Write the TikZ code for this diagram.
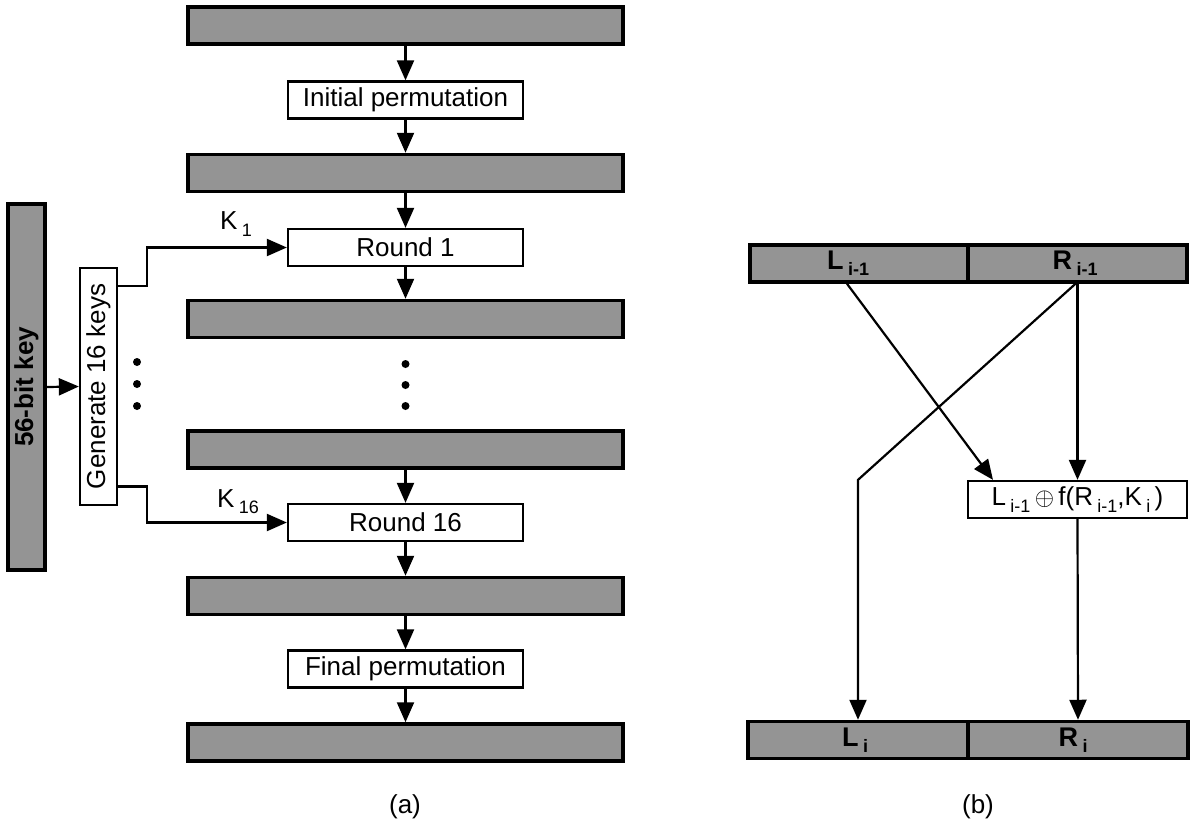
\documentclass[tikz,border=0pt]{standalone}
\usepackage{fontspec}
\setmainfont{Liberation Sans}
\usetikzlibrary{arrows.meta}
\newcommand\sbx[1]{\,\raisebox{-0.45ex}{\fontsize{18}{18}\selectfont #1}}
\begin{document}
\begin{tikzpicture}[x=1pt,y=-1pt,
  every node/.style={font=\fontsize{26}{30}\selectfont, inner sep=0pt},
  barbox/.style={draw=black, line width=3.5pt, fill=black!42, minimum height=37pt},
  wbar/.style={barbox, minimum width=435pt},
  stepbox/.style={draw=black, line width=2.3pt, fill=white, minimum width=235pt, minimum height=37pt},
  arr/.style={line width=2.2pt, -{Triangle[length=20pt,width=17pt]}},
  blackdot/.style={circle, fill=black, minimum size=8pt},
  boldlbl/.style={font=\fontsize{27}{30}\selectfont\bfseries},
]
\useasboundingbox (0,0) rectangle (1197,822);

% ---- (a) main column
\node[wbar] (b1) at (405.5,25.5) {};
\node[stepbox] (ip) at (405.5,100) {Initial permutation};
\node[wbar] (b2) at (405.5,173) {};
\node[stepbox] (r1) at (405.5,247.5) {Round 1};
\node[wbar] (b3) at (405.5,319) {};
\node[blackdot] (m1) at (405.5,364) {};
\node[blackdot] (m2) at (405.5,385) {};
\node[blackdot] (m3) at (405.5,406) {};
\node[wbar] (b4) at (405.5,449.5) {};
\node[stepbox] (r16) at (405.5,522.5) {Round 16};
\node[wbar] (b5) at (405.5,596) {};
\node[stepbox] (fp) at (405.5,669) {Final permutation};
\node[wbar] (b6) at (405.5,742.5) {};
\node (la) at (405,807) {(a)};

\draw[arr] (b1) -- (ip);
\draw[arr] (ip) -- (b2);
\draw[arr] (b2) -- (r1);
\draw[arr] (r1) -- (b3);
\draw[arr] (b4) -- (r16);
\draw[arr] (r16) -- (b5);
\draw[arr] (b5) -- (fp);
\draw[arr] (fp) -- (b6);

% ---- key schedule
\node[barbox, minimum width=37pt, minimum height=366pt] (kb) at (26.5,387)
  {\rotatebox{90}{\fontsize{26}{30}\selectfont\bfseries 56-bit key}};
\node[stepbox, minimum width=37pt, minimum height=237pt] (gen) at (98.5,386.5)
  {\rotatebox{90}{Generate 16 keys}};
\draw[arr] (kb.east) -- (gen.west);
\draw[arr] ([yshift=100.5pt]gen.east) -- ++(29,0) |- (r1.west);
\draw[arr] ([yshift=-100pt]gen.east) -- ++(29,0) |- (r16.west);
\node (k1) at (236,224) {K\sbx{1}};
\node (k16) at (238,502) {K\sbx{16}};
\node[blackdot] (d1) at (137,362) {};
\node[blackdot] (d2) at (137,384) {};
\node[blackdot] (d3) at (137,406) {};

% ---- (b) one round
\node[barbox, minimum width=218pt] (tl) at (859,263.5) {};
\node[barbox, minimum width=219pt] (tr) at (1077.5,263.5) {};
\node[boldlbl] (tlt) at (848,263) {L\sbx{i-1}};
\node[boldlbl] (trt) at (1075,263) {R\sbx{i-1}};
\node[stepbox, minimum width=219pt] (fb) at (1077.5,499.5)
  {L\sbx{i-1}\,$\oplus$\,f(R\sbx{i-1},K\sbx{i}\,)};
\node[barbox, minimum width=220pt] (bl) at (858,740) {};
\node[barbox, minimum width=220pt] (br) at (1078,740) {};
\node[boldlbl] (blt) at (855,740) {L\sbx{i}};
\node[boldlbl] (brt) at (1073,740) {R\sbx{i}};
\coordinate (bend) at (bl.north |- fb.north);

\draw[arr] ([xshift=-12pt]tl.south) -- ([xshift=-84.5pt]fb.north);
\draw[arr] (tr.south) -- (fb.north);
\draw[arr] ([xshift=-2pt]tr.south) -- (bend) -- (bl.north);
\draw[arr] (fb.south) -- (br.north);
\node (lb) at (978,807) {(b)};
\end{tikzpicture}
\end{document}
